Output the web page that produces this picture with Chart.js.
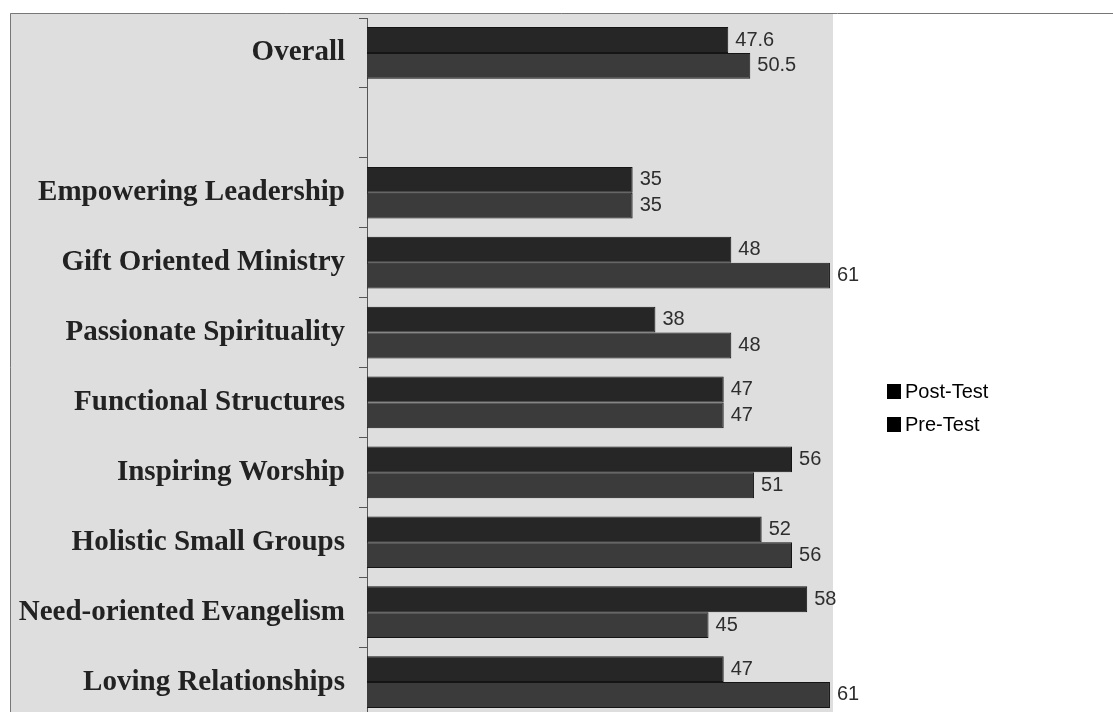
<!DOCTYPE html>
<html>
<head>
<meta charset="utf-8">
<script src="https://cdn.jsdelivr.net/npm/chart.js@4/dist/chart.umd.min.js"></script>
<style>
  html, body { margin: 0; padding: 0; background: #fff; overflow: hidden; }
  canvas { display: block; }
</style>
</head>
<body>
<canvas id="churchChart" width="1113" height="722"></canvas>
<script>
// categories top to bottom, the empty one is a spacer row
const categories = [
  'Overall',
  '',
  'Empowering Leadership',
  'Gift Oriented Ministry',
  'Passionate Spirituality',
  'Functional Structures',
  'Inspiring Worship',
  'Holistic Small Groups',
  'Need-oriented Evangelism',
  'Loving Relationships'
];
const postTest = [47.6, null, 35, 48, 38, 47, 56, 52, 58, 47];
const preTest  = [50.5, null, 35, 61, 48, 47, 51, 56, 45, 61];
const seriesNames = ['Post-Test', 'Pre-Test'];

const panelBg = {
  id: 'panelBg',
  beforeDraw(chart) {
    const { ctx, chartArea } = chart;
    ctx.save();
    ctx.fillStyle = '#dedede';
    ctx.fillRect(10, 13, chartArea.right - 10, chart.height - 13);
    ctx.strokeStyle = '#777';
    ctx.lineWidth = 1;
    ctx.beginPath();
    ctx.moveTo(10.5, chart.height);
    ctx.lineTo(10.5, 13.5);
    ctx.lineTo(chart.width, 13.5);
    ctx.stroke();
    ctx.restore();
  }
};

const valueLabels = {
  id: 'valueLabels',
  afterDatasetsDraw(chart) {
    const { ctx } = chart;
    ctx.save();
    ctx.font = '20px "Liberation Sans", Arial, sans-serif';
    ctx.textBaseline = 'middle';
    ctx.textAlign = 'left';
    chart.data.datasets.forEach((ds, i) => {
      chart.getDatasetMeta(i).data.forEach((bar, j) => {
        const v = ds.data[j];
        if (v == null) return;
        ctx.fillStyle = bar.x > chart.chartArea.right ? '#000' : '#2e2e2e';
        ctx.fillText(String(v), bar.x + 7, bar.y);
      });
    });
    ctx.restore();
  }
};

const sideLegend = {
  id: 'sideLegend',
  afterDraw(chart) {
    const { ctx } = chart;
    ctx.save();
    ctx.font = '20px "Liberation Sans", Arial, sans-serif';
    ctx.textBaseline = 'middle';
    chart.data.datasets.forEach((ds, i) => {
      const y = 392 + i * 33;
      ctx.fillStyle = '#000';
      ctx.fillRect(887, y - 8, 14, 15);
      ctx.fillText(ds.label, 905, y);
    });
    ctx.restore();
  }
};

new Chart(document.getElementById('churchChart'), {
  type: 'bar',
  data: {
    labels: categories,
    datasets: [
      { label: seriesNames[0], data: postTest, backgroundColor: '#262626', borderColor: '#151515', borderWidth: 1 },
      { label: seriesNames[1], data: preTest, backgroundColor: '#3b3b3b', borderColor: '#151515', borderWidth: 1 }
    ]
  },
  options: {
    indexAxis: 'y',
    responsive: false,
    animation: false,
    categoryPercentage: 0.74,
    barPercentage: 1.0,
    layout: { padding: { top: 18, right: 280, bottom: 5, left: 0 } },
    plugins: {
      legend: { display: false },
      tooltip: { enabled: false }
    },
    scales: {
      x: { display: false, min: 0, max: 61.4 },
      y: {
        afterFit(scale) {
          scale.width = 367;
          scale.paddingTop = 0;
          scale.paddingBottom = 0;
        },
        border: { display: true, color: '#555', width: 1 },
        grid: { drawOnChartArea: false, tickLength: 8, color: '#555', offset: true },
        ticks: {
          color: '#222',
          padding: 14,
          autoSkip: false,
          font: { family: '"Liberation Serif", "Times New Roman", serif', size: 29, weight: 'bold', lineHeight: 0.05 }
        }
      }
    }
  },
  plugins: [panelBg, valueLabels, sideLegend]
});
</script>
</body>
</html>
